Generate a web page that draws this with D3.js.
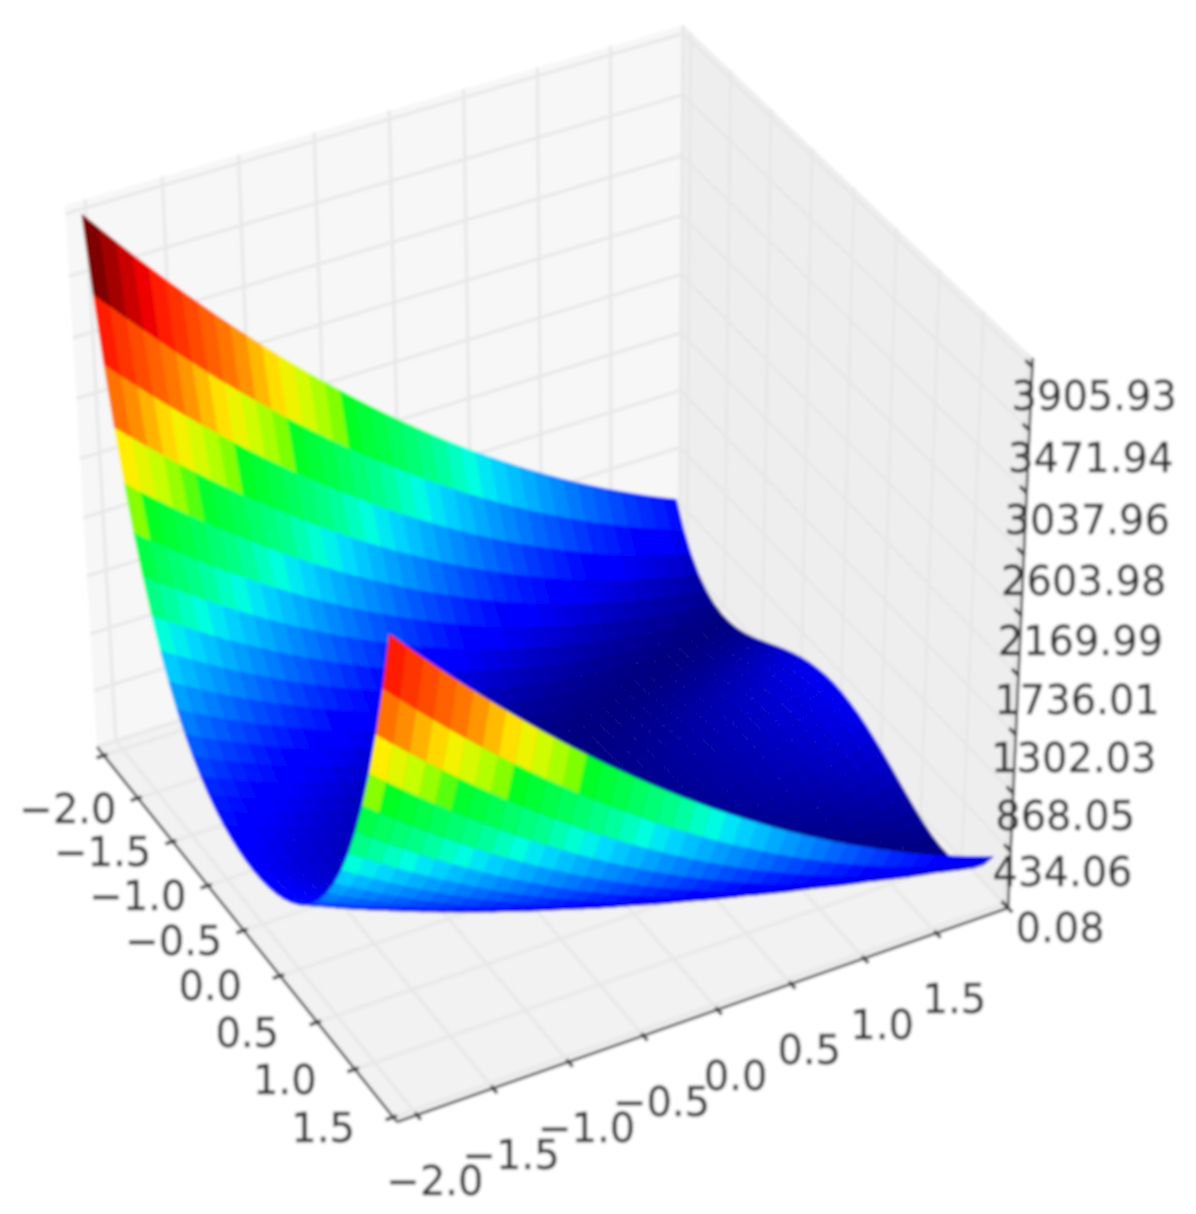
<!DOCTYPE html>
<html>
<head>
  <title>Surface plot</title>
  <script src="https://d3js.org/d3.v7.min.js"></script>
  <style>
    body { margin: 0; background: #fff; }
    text { font-family: "DejaVu Sans", sans-serif; font-size: 40px; fill: #2e2e2e; stroke: #2e2e2e; stroke-width: 0.4; }
  </style>
</head>
<body>
<script type="text/javascript">
  var w = 1196;
  var h = 1214;

  // grid of the surface
  var xValues = [-2.048,-1.9456,-1.8432,-1.7408,-1.6384,-1.536,-1.4336,-1.3312,-1.2288,-1.1264,-1.024,-0.9216,-0.8192,-0.7168,-0.6144,-0.512,-0.4096,-0.3072,-0.2048,-0.1024,0,0.1024,0.2048,0.3072,0.4096,0.512,0.6144,0.7168,0.8192,0.9216,1.024,1.1264,1.2288,1.3312,1.4336,1.536,1.6384,1.7408,1.8432,1.9456];
  var yValues = [-2.048,-1.9456,-1.8432,-1.7408,-1.6384,-1.536,-1.4336,-1.3312,-1.2288,-1.1264,-1.024,-0.9216,-0.8192,-0.7168,-0.6144,-0.512,-0.4096,-0.3072,-0.2048,-0.1024,0,0.1024,0.2048,0.3072,0.4096,0.512,0.6144,0.7168,0.8192,0.9216,1.024,1.1264,1.2288,1.3312,1.4336,1.536,1.6384,1.7408,1.8432,1.9456];
  // one row per x value, one column per y value
  var zValues = [
    [3906,3779,3654,3531,3411,3292,3176,3062,2950,2840,2732,2626,2522,2421,2321,2224,2129,2035,1944,1855,1768,1684,1601,1520,1442,1365,1291,1219,1149,1081,1015,951,889,830,772,717,664,612,563,516],
    [3402,3284,3168,3054,2941,2831,2724,2618,2514,2412,2313,2216,2120,2027,1936,1847,1760,1675,1593,1512,1433,1357,1283,1211,1140,1072,1007,943,881,821,764,709,655,604,555,508,463,420,380,340],
    [2965,2854,2746,2640,2535,2433,2333,2235,2140,2046,1954,1865,1777,1692,1609,1528,1449,1372,1297,1224,1154,1085,1019,955,892,832,774,718,665,613,563,516,470,427,386,347,310,275,242,211],
    [2579,2476,2375,2276,2179,2085,1992,1902,1813,1727,1643,1561,1481,1403,1328,1254,1183,1113,1046,981,918,857,798,741,686,634,583,535,488,444,402,362,324,288,255,223,194,166,141,118],
    [2239,2143,2050,1958,1868,1781,1695,1612,1531,1452,1375,1300,1227,1156,1088,1021,957,895,834,776,720,666,615,565,517,472,428,387,348,311,276,243,212,183,157,132,110,90,71,55],
    [1942,1853,1766,1681,1598,1517,1438,1362,1287,1215,1145,1076,1010,946,884,825,767,711,658,606,557,510,465,422,381,342,305,271,238,208,180,153,129,107,87,70,54,40,29,18],
    [1683,1601,1520,1441,1364,1290,1217,1147,1078,1012,948,886,826,768,713,659,608,558,511,466,423,382,343,306,271,239,208,180,153,129,107,87,69,53,40,28,19,11,6,2],
    [1459,1382,1307,1234,1163,1094,1028,963,900,840,782,726,671,619,570,522,476,432,391,352,314,279,246,215,186,159,135,112,91,73,57,43,30,20,13,7,3,1,2,4],
    [1266,1194,1125,1057,991,928,867,808,750,695,643,592,543,496,452,410,369,331,295,261,228,198,170,145,121,100,80,63,48,35,24,15,8,3,1,0,2,5,11,19],
    [1100,1033,969,906,845,787,730,676,624,574,526,480,436,394,355,317,282,248,217,188,161,136,113,93,74,57,43,30,20,12,6,2,0,0,3,7,14,22,33,46],
    [959,897,836,778,722,668,616,567,519,473,430,388,349,312,277,244,213,184,157,133,110,90,71,55,41,29,19,11,5,2,0,1,3,8,15,24,35,48,63,80],
    [839,781,725,671,619,569,521,475,432,390,351,313,278,245,214,185,158,134,111,91,72,56,41,29,19,11,6,2,0,1,3,8,14,23,34,47,62,80,99,120],
    [739,685,632,582,533,487,443,401,361,323,287,254,222,193,165,140,117,96,77,60,45,32,22,13,7,3,0,0,2,6,12,21,31,44,58,75,94,114,137,162],
    [656,605,556,508,463,420,379,340,304,269,237,206,178,151,127,105,85,67,52,38,26,17,10,4,1,0,1,4,9,17,26,38,51,67,85,104,126,150,177,205],
    [588,539,493,449,406,366,328,292,258,226,196,169,143,120,98,79,62,47,34,23,14,8,3,0,0,2,6,12,20,30,42,56,73,91,112,134,159,186,215,246],
    [534,487,443,401,361,323,288,254,222,193,165,140,117,96,77,60,45,32,22,13,7,3,0,0,2,6,12,21,31,44,58,75,93,114,137,162,189,219,250,283],
    [491,447,404,364,326,290,257,225,195,168,142,119,97,78,61,46,33,23,14,7,3,0,0,2,6,12,20,30,42,57,73,92,113,135,160,187,216,247,281,316],
    [459,416,375,337,300,266,233,203,175,149,125,103,83,66,50,37,25,16,9,4,1,0,1,5,10,17,27,39,53,68,86,107,129,153,179,208,239,271,306,343],
    [437,395,355,318,282,249,218,189,161,137,114,93,74,58,43,31,20,12,6,2,0,0,3,7,14,22,33,46,60,77,96,118,141,166,194,223,255,289,324,362],
    [424,382,343,307,272,239,208,180,153,129,107,87,69,53,39,27,18,10,5,1,0,1,4,9,16,25,37,50,65,83,103,125,149,175,203,233,265,300,336,375],
    [420,380,341,304,269,237,207,178,152,128,106,86,68,52,39,27,18,10,5,2,1,2,5,10,18,27,39,52,68,86,106,128,152,178,207,237,269,304,341,380],
    [424,382,343,307,272,239,208,180,153,129,107,87,69,53,39,27,18,10,5,1,0,1,4,9,16,25,37,50,65,83,103,125,149,175,203,233,265,300,336,375],
    [437,395,355,318,282,249,218,189,161,137,114,93,74,58,43,31,20,12,6,2,0,0,3,7,14,22,33,46,60,77,96,118,141,166,194,223,255,289,324,362],
    [459,416,375,337,300,266,233,203,175,149,125,103,83,66,50,37,25,16,9,4,1,0,1,5,10,17,27,39,53,68,86,107,129,153,179,208,239,271,306,343],
    [491,447,404,364,326,290,257,225,195,168,142,119,97,78,61,46,33,23,14,7,3,0,0,2,6,12,20,30,42,57,73,92,113,135,160,187,216,247,281,316],
    [534,487,443,401,361,323,288,254,222,193,165,140,117,96,77,60,45,32,22,13,7,3,0,0,2,6,12,21,31,44,58,75,93,114,137,162,189,219,250,283],
    [588,539,493,449,406,366,328,292,258,226,196,169,143,120,98,79,62,47,34,23,14,8,3,0,0,2,6,12,20,30,42,56,73,91,112,134,159,186,215,246],
    [656,605,556,508,463,420,379,340,304,269,237,206,178,151,127,105,85,67,52,38,26,17,10,4,1,0,1,4,9,17,26,38,51,67,85,104,126,150,177,205],
    [739,685,632,582,533,487,443,401,361,323,287,254,222,193,165,140,117,96,77,60,45,32,22,13,7,3,0,0,2,6,12,21,31,44,58,75,94,114,137,162],
    [839,781,725,671,619,569,521,475,432,390,351,313,278,245,214,185,158,134,111,91,72,56,41,29,19,11,6,2,0,1,3,8,14,23,34,47,62,80,99,120],
    [959,897,836,778,722,668,616,567,519,473,430,388,349,312,277,244,213,184,157,133,110,90,71,55,41,29,19,11,5,2,0,1,3,8,15,24,35,48,63,80],
    [1100,1033,969,906,845,787,730,676,624,574,526,480,436,394,355,317,282,248,217,188,161,136,113,93,74,57,43,30,20,12,6,2,0,0,3,7,14,22,33,46],
    [1266,1194,1125,1057,991,928,867,808,750,695,643,592,543,496,452,410,369,331,295,261,228,198,170,145,121,100,80,63,48,35,24,15,8,3,1,0,2,5,11,19],
    [1459,1382,1307,1234,1163,1094,1028,963,900,840,782,726,671,619,570,522,476,432,391,352,314,279,246,215,186,159,135,112,91,73,57,43,30,20,13,7,3,1,2,4],
    [1683,1601,1520,1441,1364,1290,1217,1147,1078,1012,948,886,826,768,713,659,608,558,511,466,423,382,343,306,271,239,208,180,153,129,107,87,69,53,40,28,19,11,6,2],
    [1942,1853,1766,1681,1598,1517,1438,1362,1287,1215,1145,1076,1010,946,884,825,767,711,658,606,557,510,465,422,381,342,305,271,238,208,180,153,129,107,87,70,54,40,29,18],
    [2239,2143,2050,1958,1868,1781,1695,1612,1531,1452,1375,1300,1227,1156,1088,1021,957,895,834,776,720,666,615,565,517,472,428,387,348,311,276,243,212,183,157,132,110,90,71,55],
    [2579,2476,2375,2276,2179,2085,1992,1902,1813,1727,1643,1561,1481,1403,1328,1254,1183,1113,1046,981,918,857,798,741,686,634,583,535,488,444,402,362,324,288,255,223,194,166,141,118],
    [2965,2854,2746,2640,2535,2433,2333,2235,2140,2046,1954,1865,1777,1692,1609,1528,1449,1372,1297,1224,1154,1085,1019,955,892,832,774,718,665,613,563,516,470,427,386,347,310,275,242,211],
    [3402,3284,3168,3054,2941,2831,2724,2618,2514,2412,2313,2216,2120,2027,1936,1847,1760,1675,1593,1512,1433,1357,1283,1211,1140,1072,1007,943,881,821,764,709,655,604,555,508,463,420,380,340]
  ];

  // ticks, the labels sit on the tick positions as they do in the picture
  var xTicks = [-2,-1.5,-1,-0.5,0,0.5,1,1.5,2];
  var xTickLabels = ["","\u22122.0","\u22121.5","\u22121.0","\u22120.5","0.0","0.5","1.0","1.5"];
  var yTicks = [-2,-1.5,-1,-0.5,0,0.5,1,1.5,2];
  var yTickLabels = ["\u22122.0","\u22121.5","\u22121.0","\u22120.5","0.0","0.5","1.0","1.5",""];
  var zTicks = [0.08,434.06,868.05,1302.03,1736.01,2169.99,2603.98,3037.96,3471.94,3905.93];

  // rainbow colormap as it looks in the picture, the greens are more saturated than plain jet
  var jetStops = [0,0.11,0.13,0.25,0.34,0.37,0.42,0.49,0.55,0.56,0.61,0.66,0.74,0.89,0.91,1];
  var jetColors = ["#00007f","#0000ff","#0000ff","#0080ff","#00dbff","#00ffe0","#00ff90","#00ff50","#00ff20","#70ff00","#c8ff00","#ffee00","#ff8000","#ff1000","#e80000","#7f0000"];

  var xScale = d3.scaleLinear().domain([-2.1, 2.05]).range([0, 1]);
  var yScale = d3.scaleLinear().domain([-2.13, 2.0]).range([0, 1]);
  var zScale = d3.scaleLinear().domain([0.08, 3966]).range([0, 1]);

  var zMin = 0.08, zMax = 3905.93;
  var colorScale = d3.scaleLinear()
    .domain(jetStops.map(function(s){ return zMin + s * (zMax - zMin); }))
    .range(jetColors);

  // projective map of the unit box to the page, fitted to the corners of the box in the picture
  function project(u, v, t) {
    var d = 1 - 0.0653 * u + 0.0344 * v - 0.0578 * t;
    return [(97 + 274.1 * u + 605.8 * v - 35.8 * t) / d,
            (747 + 301.7 * u - 168.8 * v - 553.8 * t) / d];
  }
  function pt(u, v, t) { return project(u, v, t).join(","); }

  var svg = d3.select("body").append("svg")
    .attr("width", w)
    .attr("height", h);

  var defs = svg.append("defs");
  defs.append("filter").attr("id", "soft")
    .attr("x", 0).attr("y", 0).attr("width", 1).attr("height", 1)
    .attr("filterUnits", "objectBoundingBox")
    .append("feGaussianBlur").attr("stdDeviation", 1.4);

  var g = svg.append("g").attr("filter", "url(#soft)");
  g.append("rect").attr("width", w).attr("height", h).attr("fill", "#fff");

  // panes
  var panes = [
    { c: "#f7f7f7", p: [[0,0,0],[0,1,0],[0,1,1],[0,0,1]] },
    { c: "#eeeeee", p: [[0,1,0],[1,1,0],[1,1,1],[0,1,1]] },
    { c: "#f2f2f2", p: [[0,0,0],[1,0,0],[1,1,0],[0,1,0]] }
  ];
  g.selectAll("polygon.pane").data(panes).enter().append("polygon")
    .attr("class", "pane")
    .attr("points", function(d){ return d.p.map(function(q){ return pt(q[0], q[1], q[2]); }).join(" "); })
    .attr("fill", function(d){ return d.c; });

  // grid lines
  function gridLine(a, b) {
    var p1 = project(a[0], a[1], a[2]), p2 = project(b[0], b[1], b[2]);
    g.append("line")
      .attr("x1", p1[0]).attr("y1", p1[1]).attr("x2", p2[0]).attr("y2", p2[1])
      .attr("stroke", "#e7e7e7").attr("stroke-width", 3);
  }
  xTicks.forEach(function(d){
    var u = xScale(d);
    gridLine([u,0,0],[u,1,0]);
    gridLine([u,1,0],[u,1,1]);
  });
  yTicks.forEach(function(d){
    var v = yScale(d);
    gridLine([0,v,0],[1,v,0]);
    gridLine([0,v,0],[0,v,1]);
  });
  zTicks.forEach(function(d){
    var t = zScale(d);
    gridLine([0,0,t],[0,1,t]);
    gridLine([0,1,t],[1,1,t]);
  });

  // surface quads, far ones first
  var quads = [];
  for (var i = 0; i < xValues.length - 1; i++) {
    for (var j = yValues.length - 2; j >= 0; j--) {
      quads.push({ i: i, j: j });
    }
  }
  function quadColor(d) {
    return colorScale(Math.max(zValues[d.i][d.j], zValues[d.i+1][d.j], zValues[d.i][d.j+1], zValues[d.i+1][d.j+1]));
  }
  g.selectAll("path.quad").data(quads).enter().append("path")
    .attr("class", "quad")
    .attr("d", function(d){
      var a = [[d.i,d.j],[d.i+1,d.j],[d.i+1,d.j+1],[d.i,d.j+1]];
      return "M" + a.map(function(q){
        return pt(xScale(xValues[q[0]]), yScale(yValues[q[1]]), zScale(zValues[q[0]][q[1]]));
      }).join("L") + "Z";
    })
    .attr("fill", quadColor)
    .attr("stroke", quadColor)
    .attr("stroke-width", 0.6);

  // axis lines
  function axisLine(a, b, sw) {
    var p1 = project(a[0], a[1], a[2]), p2 = project(b[0], b[1], b[2]);
    g.append("line")
      .attr("x1", p1[0]).attr("y1", p1[1]).attr("x2", p2[0]).attr("y2", p2[1])
      .attr("stroke", "#3a3a3a").attr("stroke-width", sw);
  }
  axisLine([0,0,0],[1,0,0],2.6);
  axisLine([1,0,0],[1,1,0],2.6);
  axisLine([1,1,0],[1,1,1],2.6);

  function tickLabel(p, label, dx, dy) {
    g.append("text")
      .attr("x", p[0] + dx).attr("y", p[1] + dy)
      .attr("text-anchor", "middle")
      .attr("dy", ".36em")
      .text(label);
  }

  xTicks.forEach(function(d, i){
    var u = xScale(d);
    axisLine([u,-0.012,0],[u,0.006,0],3.4);
    if (xTickLabels[i]) tickLabel(project(u,0,0), xTickLabels[i], -70, 10);
  });
  yTicks.forEach(function(d, i){
    var v = yScale(d);
    axisLine([1-0.006,v,0],[1+0.012,v,0],3.4);
    if (yTickLabels[i]) tickLabel(project(1,v,0), yTickLabels[i], 18, 66);
  });
  zTicks.forEach(function(d){
    var t = zScale(d);
    axisLine([1-0.018,1,t],[1+0.002,1,t],3.4);
    var label = d.toFixed(2);
    tickLabel(project(1,1,t), label, label.length > 6 ? 56 + 6 * t : 52, 20 + 9 * t);
  });
</script>
</body>
</html>
